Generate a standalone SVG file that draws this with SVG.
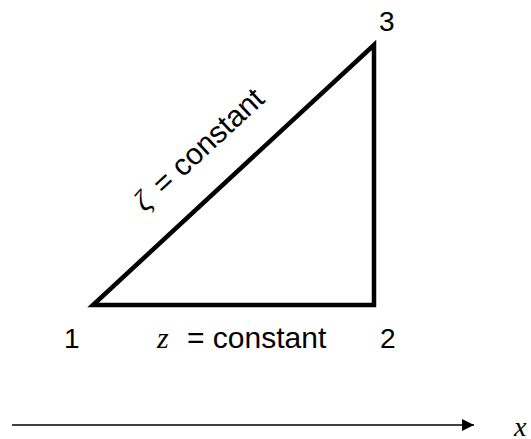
<svg xmlns="http://www.w3.org/2000/svg" width="531" height="439" viewBox="0 0 531 439">
<style>
.lbl{font-family:"Liberation Sans",Arial,sans-serif;font-size:30px;fill:#000}
.num{font-family:"Liberation Sans",Arial,sans-serif;font-size:28px;fill:#000}
.it{font-family:"Liberation Serif","Times New Roman",serif;font-style:italic;fill:#000}
.edge{stroke:#000;stroke-width:4.5;fill:none;stroke-linejoin:miter}
</style>
<defs>
<marker id="ah" viewBox="0 0 10 10" refX="10" refY="5" markerWidth="16" markerHeight="12" markerUnits="userSpaceOnUse" orient="auto">
<path d="M0,0 L10,5 L0,10 Z" fill="#000"/>
</marker>
</defs>
<g id="connectors">
<path class="edge" d="M93,305 L374,305 L374,45 Z"/>
<line x1="12" y1="425" x2="474" y2="425" stroke="#000" stroke-width="1.5" marker-end="url(#ah)"/>
</g>
<g id="node1"><text class="num" x="64" y="348">1</text></g>
<g id="node2"><text class="num" x="380" y="348">2</text></g>
<g id="node3"><text class="num" x="379" y="31">3</text></g>
<g id="label-z"><text class="it" font-size="30" x="157" y="348">z</text><text class="lbl" x="187" y="348">= constant</text></g>
<g id="label-zeta"><text class="lbl" text-anchor="end" transform="translate(266,101) rotate(-42.8)"><tspan class="it">ζ</tspan><tspan dx="5"> = constant</tspan></text></g>
<g id="axis-x"><text class="it" font-size="28" x="514" y="436">x</text></g>
</svg>
